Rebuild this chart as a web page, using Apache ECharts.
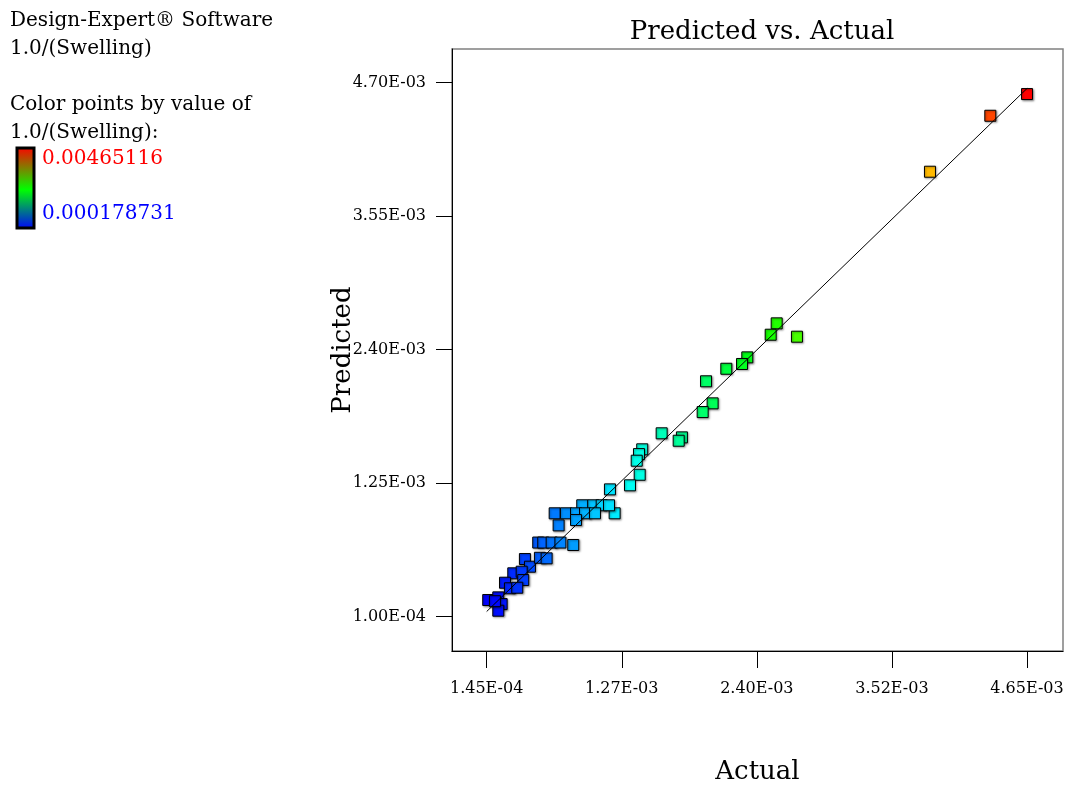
<!DOCTYPE html>
<html>
<head>
<meta charset="utf-8">
<script src="https://cdn.jsdelivr.net/npm/echarts@6/dist/echarts.min.js"></script>
<style>
  html, body { margin: 0; padding: 0; background: #fff; }
  #chart { width: 1069px; height: 787px; }
</style>
</head>
<body>
<div id="chart"></div>
<script>
// all values in units of 1e-3 (1.0/Swelling)
const actual = [
  4.650, 4.344, 3.841, 2.563, 2.513, 2.732, 2.318, 2.274, 2.143, 1.974,
  2.029, 1.946, 1.604, 1.773, 1.746, 1.442, 1.415, 1.396, 1.421, 1.340,
  1.173, 1.212, 0.942, 1.034, 1.104, 1.165, 0.712, 0.806, 0.890, 0.965,
  1.048, 0.890, 0.745, 0.575, 0.617, 0.687, 0.760, 0.867, 0.464, 0.506,
  0.589, 0.645, 0.367, 0.437, 0.450, 0.298, 0.339, 0.400, 0.158, 0.242,
  0.270, 0.242, 0.214
];
const predicted = [
  4.602, 4.415, 3.933, 2.627, 2.529, 2.512, 2.334, 2.277, 2.236, 2.128,
  1.938, 1.863, 1.680, 1.645, 1.616, 1.542, 1.501, 1.444, 1.323, 1.232,
  1.197, 0.991, 1.060, 1.060, 1.060, 1.060, 0.991, 0.991, 0.991, 0.991,
  0.991, 0.933, 0.887, 0.739, 0.739, 0.739, 0.739, 0.718, 0.597, 0.531,
  0.608, 0.603, 0.474, 0.488, 0.416, 0.393, 0.345, 0.350, 0.244, 0.267,
  0.209, 0.152, 0.234
];
const fitLine = [[0.145, 0.145], [4.65116, 4.65116]];

const xTickValues = [0.145, 1.27125, 2.3975, 3.52375, 4.65];
const xTickLabels = ['1.45E-04', '1.27E-03', '2.40E-03', '3.52E-03', '4.65E-03'];
const yTickValues = [0.1, 1.25, 2.4, 3.55, 4.7];
const yTickLabels = ['1.00E-04', '1.25E-03', '2.40E-03', '3.55E-03', '4.70E-03'];

const colorMin = 0.178731;
const colorMax = 4.65116;
const colorMinLabel = '0.000178731';
const colorMaxLabel = '0.00465116';

const serif = 'DejaVu Serif';
const noteFont = '20px "DejaVu Serif"';

function tickLabel(values, labels) {
  return function (v) {
    const i = values.findIndex(t => Math.abs(t - v) < 1e-6);
    return i >= 0 ? labels[i] : '';
  };
}

const points = actual.map((a, i) => [a, predicted[i]]);

const chart = echarts.init(document.getElementById('chart'));
chart.setOption({
  animation: false,
  backgroundColor: '#fff',
  title: {
    text: 'Predicted vs. Actual',
    left: 757,
    top: 14,
    textAlign: 'center',
    textStyle: { fontFamily: serif, fontSize: 26, fontWeight: 'normal', color: '#000' }
  },
  grid: {
    left: 452, right: 6, top: 49, bottom: 136,
    outerBoundsMode: 'none',
    show: true, borderColor: '#808080', borderWidth: 1.5
  },
  xAxis: {
    type: 'value',
    min: -0.144,
    max: 4.95,
    name: 'Actual',
    nameLocation: 'middle',
    nameGap: 108,
    nameMoveOverlap: false,
    nameTextStyle: { fontFamily: serif, fontSize: 26, color: '#000' },
    axisLine: { show: true, onZero: false, lineStyle: { color: '#000', width: 1 } },
    axisTick: { show: true, customValues: xTickValues, length: 17, lineStyle: { color: '#000' } },
    axisLabel: {
      customValues: xTickValues,
      formatter: tickLabel(xTickValues, xTickLabels),
      margin: 30,
      fontFamily: serif, fontSize: 16, color: '#000'
    },
    splitLine: { show: false }
  },
  yAxis: {
    type: 'value',
    min: -0.195,
    max: 4.99,
    name: 'Predicted',
    nameLocation: 'middle',
    nameGap: 96,
    nameMoveOverlap: false,
    nameTextStyle: { fontFamily: serif, fontSize: 26, color: '#000' },
    axisLine: { show: true, onZero: false, lineStyle: { color: '#000', width: 1 } },
    axisTick: { show: true, customValues: yTickValues, length: 16, lineStyle: { color: '#000' } },
    axisLabel: {
      customValues: yTickValues,
      formatter: tickLabel(yTickValues, yTickLabels),
      margin: 26,
      fontFamily: serif, fontSize: 16, color: '#000'
    },
    splitLine: { show: false }
  },
  visualMap: {
    show: false,
    type: 'continuous',
    seriesIndex: 0,
    dimension: 0,
    min: colorMin,
    max: colorMax,
    inRange: { color: ['#0000ff', '#00ffff', '#00ff00', '#ffff00', '#ff0000'] }
  },
  series: [
    {
      type: 'scatter',
      data: points,
      symbol: 'rect',
      symbolSize: 11,
      z: 2,
      itemStyle: {
        borderColor: '#000',
        borderWidth: 1,
        opacity: 1,
        shadowBlur: 2,
        shadowOffsetX: 1,
        shadowOffsetY: 1,
        shadowColor: 'rgba(0,0,0,0.35)'
      }
    },
    {
      type: 'line',
      data: fitLine,
      symbol: 'none',
      z: 3,
      lineStyle: { color: '#000', width: 1 }
    }
  ],
  graphic: [
    { type: 'text', left: 10, top: 11, style: { text: 'Design-Expert® Software', font: noteFont, fill: '#000' } },
    { type: 'text', left: 10, top: 39, style: { text: '1.0/(Swelling)', font: noteFont, fill: '#000' } },
    { type: 'text', left: 10, top: 95, style: { text: 'Color points by value of', font: noteFont, fill: '#000' } },
    { type: 'text', left: 10, top: 123, style: { text: '1.0/(Swelling):', font: noteFont, fill: '#000' } },
    {
      type: 'rect',
      shape: { x: 17, y: 148, width: 17, height: 80 },
      style: {
        fill: new echarts.graphic.LinearGradient(0, 0, 0, 1, [
          { offset: 0, color: '#ff0000' },
          { offset: 0.52, color: '#00ff00' },
          { offset: 1, color: '#0000ff' }
        ]),
        stroke: '#000',
        lineWidth: 3
      }
    },
    { type: 'text', left: 42, top: 149, style: { text: colorMaxLabel, font: noteFont, fill: '#ff0000' } },
    { type: 'text', left: 42, top: 204, style: { text: colorMinLabel, font: noteFont, fill: '#0000ff' } }
  ]
});
</script>
</body>
</html>
